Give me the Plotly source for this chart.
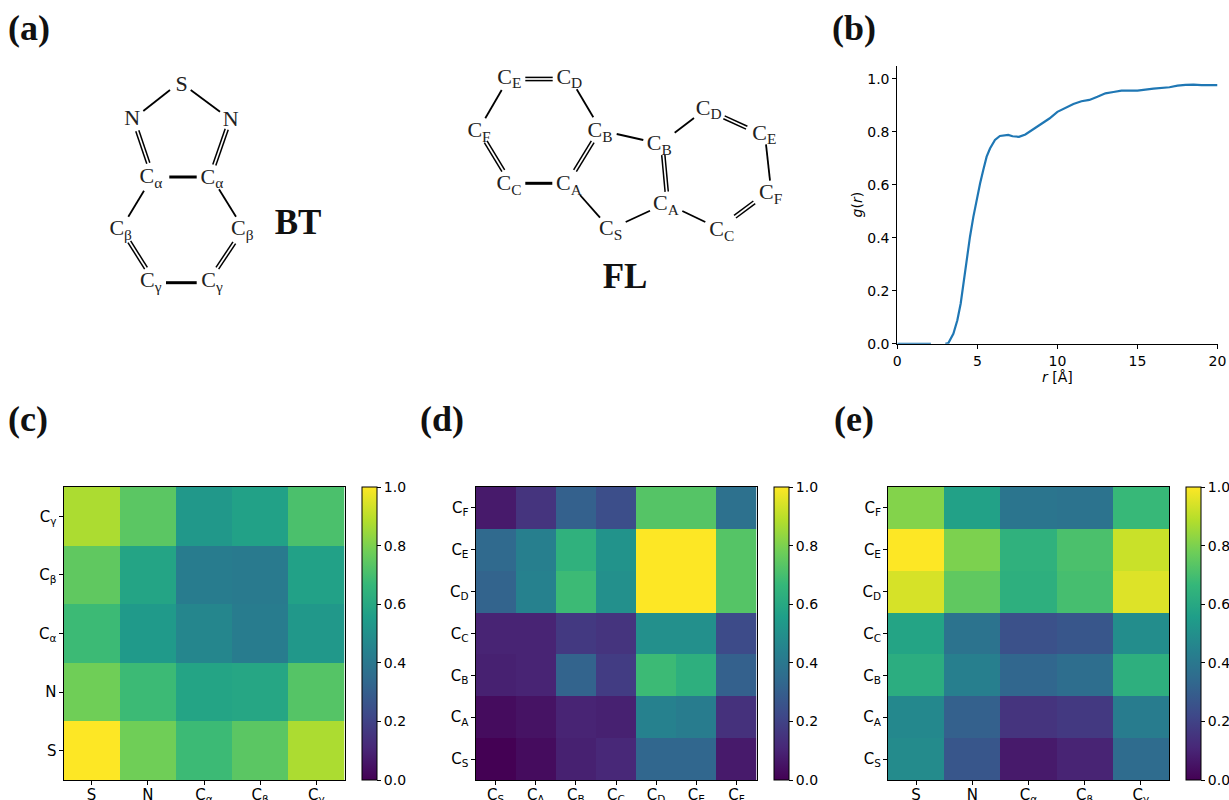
import plotly.graph_objects as go
import math

W, H = 1229, 800

# ---------- data ----------
r_vals = [0, 1, 2, 2.1, None, 3.0, 3.19, 3.5, 3.75, 3.96, 4.12, 4.33, 4.54, 4.75, 4.96, 5.17, 5.37, 5.58, 5.79, 6.1, 6.41, 6.93,
          7.2, 7.6, 8, 8.5, 9, 9.5, 10, 10.5, 11, 11.5, 12, 12.5, 13, 13.5, 14, 15, 16, 17, 17.5, 18, 18.5, 19, 19.5, 20]
g_vals = [0, 0, 0, 0, None, 0, 0.003, 0.038, 0.089, 0.152, 0.227, 0.316, 0.404, 0.479, 0.549, 0.605, 0.656, 0.706, 0.737, 0.769, 0.784, 0.788,
          0.783, 0.781, 0.79, 0.81, 0.83, 0.85, 0.875, 0.89, 0.905, 0.915, 0.92, 0.932, 0.945, 0.95, 0.955, 0.955, 0.963, 0.968, 0.974, 0.977, 0.978, 0.976, 0.977, 0.976]

bt_labels = ["S", "N", "C<sub>α</sub>", "C<sub>β</sub>", "C<sub>γ</sub>"]
fl_labels = ["C<sub>S</sub>", "C<sub>A</sub>", "C<sub>B</sub>", "C<sub>C</sub>", "C<sub>D</sub>", "C<sub>E</sub>", "C<sub>F</sub>"]

z_c = [
    [1.00, 0.78, 0.68, 0.74, 0.875],
    [0.78, 0.68, 0.58, 0.59, 0.73],
    [0.68, 0.54, 0.46, 0.42, 0.53],
    [0.75, 0.58, 0.42, 0.41, 0.57],
    [0.875, 0.74, 0.53, 0.57, 0.71],
]
z_d = [
    [0.00, 0.03, 0.09, 0.11, 0.33, 0.33, 0.07],
    [0.03, 0.05, 0.10, 0.09, 0.44, 0.42, 0.14],
    [0.09, 0.10, 0.32, 0.18, 0.68, 0.63, 0.31],
    [0.10, 0.10, 0.17, 0.15, 0.50, 0.50, 0.23],
    [0.32, 0.44, 0.68, 0.50, 1.00, 1.00, 0.73],
    [0.34, 0.43, 0.64, 0.51, 1.00, 1.00, 0.73],
    [0.07, 0.15, 0.31, 0.24, 0.73, 0.73, 0.37],
]
z_e = [
    [0.48, 0.27, 0.07, 0.10, 0.35],
    [0.47, 0.31, 0.15, 0.17, 0.42],
    [0.62, 0.43, 0.33, 0.36, 0.63],
    [0.58, 0.38, 0.25, 0.27, 0.49],
    [0.94, 0.75, 0.63, 0.70, 0.95],
    [1.00, 0.80, 0.64, 0.71, 0.92],
    [0.81, 0.57, 0.39, 0.38, 0.67],
]

# ---------- molecule schematics (diagram geometry, in page pixels) ----------
atoms = [
    ("S", 181.7, 85), ("N", 132.3, 119.5), ("N", 230.7, 120.5),
    ("C<sub>α</sub>", 151, 177.5), ("C<sub>α</sub>", 212, 178),
    ("C<sub>β</sub>", 120.7, 229.5), ("C<sub>β</sub>", 242.3, 229.5),
    ("C<sub>γ</sub>", 150.7, 281.5), ("C<sub>γ</sub>", 212, 281.5),
    ("C<sub>E</sub>", 509.3, 78.2), ("C<sub>D</sub>", 569.3, 78.2),
    ("C<sub>F</sub>", 479, 131.5), ("C<sub>B</sub>", 600, 131.5),
    ("C<sub>C</sub>", 509, 184.8), ("C<sub>A</sub>", 569, 184.8),
    ("C<sub>S</sub>", 610.7, 229.8), ("C<sub>A</sub>", 666, 204.8),
    ("C<sub>B</sub>", 659.3, 144.8), ("C<sub>D</sub>", 708.7, 109.2),
    ("C<sub>E</sub>", 764.3, 134.2), ("C<sub>F</sub>", 770.7, 193.8),
    ("C<sub>C</sub>", 721.7, 230.5),
]
single_bonds = [
    (170, 90, 143.3, 111), (190.7, 90, 220, 111.7),
    (144, 190.7, 128.3, 216.7), (219, 189.3, 236, 216.7),
    (501.7, 90, 485.3, 118.3), (593.3, 117.3, 576.7, 89.3),
    (616.7, 134, 643.3, 140), (580, 195, 600, 217.7),
    (625.7, 222, 650, 210.7), (674.7, 132.7, 694, 118),
    (766, 144.3, 770, 180.7), (682.3, 211, 705.3, 222),
]
heavy_bonds = [
    (169.3, 177, 196.7, 177), (166, 282.7, 196.7, 282.7),
    (525.3, 183.3, 552.3, 183.3),
]
double_bonds = [
    (137.3, 130.7, 148.3, 163.3), (226.7, 129.3, 214.3, 165),
    (129.3, 241.7, 146, 268.3), (234.3, 242.7, 217.3, 268.3),
    (525.3, 79, 552.7, 79), (485.7, 141.7, 503.3, 170.7),
    (575, 170.7, 592.7, 141.7), (663.3, 155, 666.7, 191.7),
    (724, 117.3, 746.7, 127.7), (754.3, 202.3, 735, 216.7),
]
panel_labels = [("(a)", 29, 31), ("(b)", 854, 31), ("(c)", 28, 421.5), ("(d)", 442, 421.5), ("(e)", 854, 421.5)]
mol_names = [("BT", 298, 225.5), ("FL", 625, 279.5)]

# ---------- helpers ----------
def dom_x(a, b): return [a / W, b / W]
def dom_y(top, bottom): return [(H - bottom) / H, (H - top) / H]

fig = go.Figure()

TICK_FONT = dict(family="DejaVu Sans", size=15, color="black")
CB_FONT = dict(family="DejaVu Sans", size=14, color="black")

panels = [
    ("x", "y", z_c, bt_labels, bt_labels, 63.5, 344.5, 361.5),
    ("x2", "y2", z_d, fl_labels, fl_labels, 475.5, 756.5, 773.5),
    ("x3", "y3", z_e, bt_labels, fl_labels, 888, 1169, 1186),
]
TOP, BOT = 487, 780
layout_axes = {}
for i, (xa, ya, z, xl, yl, x0, x1, cbx) in enumerate(panels):
    fig.add_trace(go.Heatmap(
        z=z, x=xl, y=yl, xaxis=xa, yaxis=ya, colorscale="Viridis", zmin=0, zmax=1,
        hoverinfo="skip",
        colorbar=dict(
            x=cbx / W, xanchor="left", xpad=0, y=(H - BOT) / H, yanchor="bottom", ypad=0,
            len=(BOT - TOP) / H, lenmode="fraction", thickness=15, thicknessmode="pixels",
            outlinecolor="black", outlinewidth=1, ticks="outside", ticklen=4, tickwidth=1,
            tickcolor="black", tick0=0, dtick=0.2, tickformat=".1f", tickfont=CB_FONT,
        ),
    ))
    sfx = xa[1:]
    common = dict(showline=True, linecolor="black", linewidth=1, mirror=True, ticks="outside",
                  ticklen=4, tickwidth=1, tickcolor="black", tickfont=TICK_FONT,
                  showgrid=False, zeroline=False, type="category", tickangle=0)
    layout_axes["xaxis" + sfx] = dict(domain=dom_x(x0, x1), anchor=ya, ticklabelstandoff=-3, **common)
    layout_axes["yaxis" + sfx] = dict(domain=dom_y(TOP, BOT), anchor=xa, ticklabelstandoff=-1, **common)

# g(r)
fig.add_trace(go.Scatter(x=r_vals, y=g_vals, mode="lines", xaxis="x4", yaxis="y4",
                         line=dict(color="#1f77b4", width=2.2), hoverinfo="skip",
                         connectgaps=False, showlegend=False))
gr_common = dict(showline=True, linecolor="black", linewidth=1, ticks="outside", ticklen=4,
                 tickwidth=1, tickcolor="black", tickfont=CB_FONT, showgrid=False, zeroline=False)
layout_axes["xaxis4"] = dict(domain=dom_x(897.3, 1217.5), anchor="y4", range=[0, 20], tickvals=[0, 5, 10, 15, 20],
                             title=dict(text="<i>r</i> [Å]", font=dict(family="DejaVu Sans", size=14, color="black"), standoff=4),
                             **gr_common)
layout_axes["yaxis4"] = dict(domain=dom_y(65.5, 343.8), anchor="x4", range=[0, 1.05], tickvals=[0, 0.2, 0.4, 0.6, 0.8, 1.0],
                             tickformat=".1f",
                             title=dict(text="<i>g</i>(<i>r</i>)", font=dict(family="DejaVu Sans", size=14, color="black"), standoff=1),
                             **gr_common)

# overlay in page pixels for the molecule schematics
layout_axes["xaxis5"] = dict(domain=[0, 1], range=[0, W], visible=False, anchor="y5", fixedrange=True)
layout_axes["yaxis5"] = dict(domain=[0, 1], range=[H, 0], visible=False, anchor="x5", fixedrange=True)

def bond_trace(xs, ys, width):
    fig.add_trace(go.Scatter(x=xs, y=ys, mode="lines", xaxis="x5", yaxis="y5",
                             line=dict(color="black", width=width), hoverinfo="skip", showlegend=False))

xs, ys = [], []
for a, b, c, d in single_bonds:
    xs += [a, c, None]; ys += [b, d, None]
bond_trace(xs, ys, 1.8)
xs, ys = [], []
for a, b, c, d in heavy_bonds:
    xs += [a, c, None]; ys += [b, d, None]
bond_trace(xs, ys, 3)
xs, ys = [], []
for a, b, c, d in double_bonds:
    L = math.hypot(c - a, d - b)
    nx, ny = -(d - b) / L * 1.6, (c - a) / L * 1.6
    for s in (-1, 1):
        xs += [a + s * nx, c + s * nx, None]; ys += [b + s * ny, d + s * ny, None]
bond_trace(xs, ys, 1.5)

fig.add_trace(go.Scatter(
    x=[a[1] for a in atoms], y=[a[2] for a in atoms], text=[a[0] for a in atoms],
    mode="text", textposition="middle center", xaxis="x5", yaxis="y5", hoverinfo="skip", showlegend=False,
    textfont=dict(family="Liberation Serif", size=22, color="#222222")))
fig.add_trace(go.Scatter(
    x=[a[1] for a in mol_names], y=[a[2] for a in mol_names], text=["<b>%s</b>" % a[0] for a in mol_names],
    mode="text", textposition="middle center", xaxis="x5", yaxis="y5", hoverinfo="skip", showlegend=False,
    textfont=dict(family="Liberation Serif", size=35, color="#111111")))
fig.add_trace(go.Scatter(
    x=[a[1] for a in panel_labels], y=[a[2] for a in panel_labels], text=["<b>%s</b>" % a[0] for a in panel_labels],
    mode="text", textposition="middle center", xaxis="x5", yaxis="y5", hoverinfo="skip", showlegend=False,
    textfont=dict(family="Liberation Serif", size=36, color="#111111")))

fig.update_layout(width=W, height=H, autosize=False,
                  margin=dict(l=0, r=0, t=0, b=0, pad=0, autoexpand=False),
                  paper_bgcolor="white", plot_bgcolor="rgba(0,0,0,0)", showlegend=False,
                  font=dict(family="DejaVu Sans"), **layout_axes)

fig.write_html("out.html", config={"displayModeBar": False, "responsive": False},
               post_script="document.body.style.margin='0';document.documentElement.style.overflow='hidden';document.body.style.overflow='hidden';")
